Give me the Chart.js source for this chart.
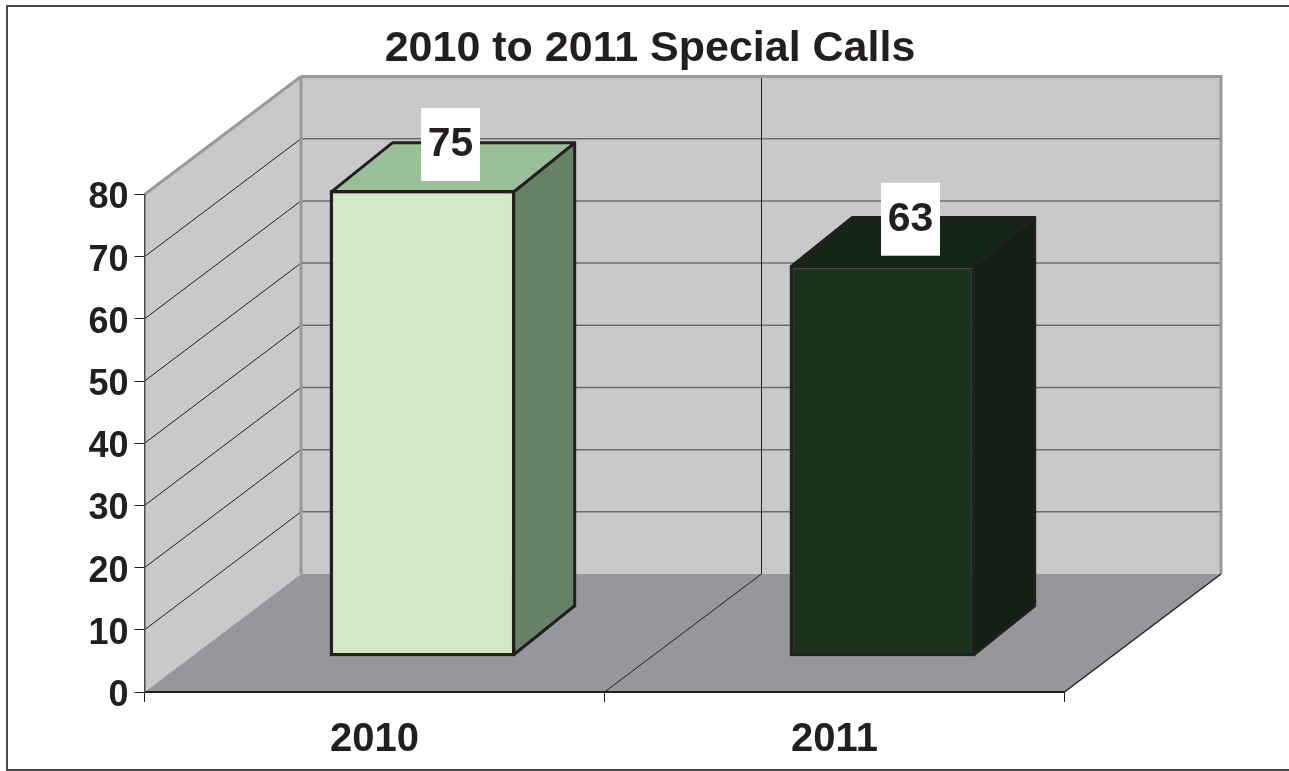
<!DOCTYPE html>
<html>
<head>
<meta charset="utf-8">
<title>2010 to 2011 Special Calls</title>
<script src="https://cdn.jsdelivr.net/npm/chart.js@4"></script>
<style>
    html, body { margin: 0; padding: 0; background: #fff; overflow: hidden; }
    canvas { display: block; }
</style>
</head>
<body>
<canvas id="canvas-chart" width="1289" height="771"></canvas>
<script>
const years = ['2010', '2011'];
const specialCalls = [75, 63];

const frontColors = ['#d4e7c7', '#19331c'];
const topColors = ['#9bbf99', '#142717'];
const sideColors = ['#668266', '#121f15'];

const INK = '#231f20';
const WALL = '#c8c9cb';
const FLOOR = '#96979a';
const EDGE = '#98999b';
const FONT = '"Liberation Sans", Arial, sans-serif';

// how far the back wall sits behind the axes
const WALL_DX = 156.5, WALL_DY = 118;
// how far the bars sit behind the axes, and how deep they are
const BAR_DX = 48, BAR_DY = 35.5;
const DEPTH_DX = 61, DEPTH_DY = 49;
const BAR_BORDER = 3.5;

function poly(ctx, pts, fill, stroke, width) {
    ctx.beginPath();
    pts.forEach((p, i) => i ? ctx.lineTo(p[0], p[1]) : ctx.moveTo(p[0], p[1]));
    ctx.closePath();
    if (fill) { ctx.fillStyle = fill; ctx.fill(); }
    if (stroke) { ctx.strokeStyle = stroke; ctx.lineWidth = width; ctx.lineJoin = 'round'; ctx.stroke(); }
}

function line(ctx, x1, y1, x2, y2, color, width) {
    ctx.beginPath();
    ctx.moveTo(x1, y1);
    ctx.lineTo(x2, y2);
    ctx.strokeStyle = color;
    ctx.lineWidth = width;
    ctx.stroke();
}

const box3d = {
    id: 'box3d',
    beforeDraw(chart) {
        const ctx = chart.ctx, x = chart.scales.x, y = chart.scales.y;
        const l = x.left, r = x.right, b = y.getPixelForValue(0), t = y.getPixelForValue(80);
        ctx.save();

        // outer frame, the right side runs off the picture
        ctx.strokeStyle = '#4a4a4c';
        ctx.lineWidth = 2;
        ctx.strokeRect(7, 6, 1300, 764);

        // walls and floor
        poly(ctx, [[l, b], [l + WALL_DX, b - WALL_DY], [l + WALL_DX, t - WALL_DY], [l, t]], WALL);
        poly(ctx, [[l + WALL_DX, b - WALL_DY], [r + WALL_DX, b - WALL_DY], [r + WALL_DX, t - WALL_DY], [l + WALL_DX, t - WALL_DY]], WALL);
        poly(ctx, [[l, b], [r, b], [r + WALL_DX, b - WALL_DY], [l + WALL_DX, b - WALL_DY]], FLOOR);

        // gridlines
        y.ticks.forEach(tick => {
            if (tick.value === 0 || tick.value === 80) return;
            const py = y.getPixelForValue(tick.value);
            line(ctx, l, py, l + WALL_DX, py - WALL_DY, INK, 1);
            line(ctx, l + WALL_DX, py - WALL_DY, r + WALL_DX, py - WALL_DY, '#6b6c6e', 1.5);
        });

        // divider between the two categories
        const mid = (l + r) / 2;
        line(ctx, mid, b, mid + WALL_DX + 0.5, b - WALL_DY, INK, 1);
        line(ctx, mid + WALL_DX + 0.5, b - WALL_DY, mid + WALL_DX + 0.5, t - WALL_DY, INK, 1);

        // wall edges
        line(ctx, l, t, l + WALL_DX, t - WALL_DY, EDGE, 3);
        line(ctx, l + WALL_DX, t - WALL_DY, r + WALL_DX + 1.5, t - WALL_DY, EDGE, 3);
        line(ctx, r + WALL_DX, t - WALL_DY, r + WALL_DX, b - WALL_DY, EDGE, 3);
        line(ctx, l + WALL_DX, t - WALL_DY, l + WALL_DX, b - WALL_DY, EDGE, 3);
        line(ctx, r, b, r + WALL_DX, b - WALL_DY, INK, 1.5);
        ctx.restore();
    },
    beforeDatasetsDraw(chart) {
        const ctx = chart.ctx;
        ctx.save();
        ctx.translate(BAR_DX, -BAR_DY);
        chart.getDatasetMeta(0).data.forEach((bar, i) => {
            // the library insets the bar border, so start on the middle of that stroke
            const inset = BAR_BORDER / 2;
            const left = bar.x - bar.width / 2 + inset, right = bar.x + bar.width / 2 - inset;
            const top = bar.y + inset, bottom = bar.base - inset;
            poly(ctx, [[right, top], [right + DEPTH_DX, top - DEPTH_DY], [right + DEPTH_DX, bottom - DEPTH_DY], [right, bottom]], sideColors[i], INK, 3);
            poly(ctx, [[left, top], [left + DEPTH_DX, top - DEPTH_DY], [right + DEPTH_DX, top - DEPTH_DY], [right, top]], topColors[i], INK, 3);
        });
    },
    afterDatasetsDraw(chart) {
        const ctx = chart.ctx;
        ctx.restore();
        ctx.save();
        chart.getDatasetMeta(0).data.forEach((bar, i) => {
            const cx = bar.x + BAR_DX + 28, boxTop = bar.y - BAR_DY - 82;
            ctx.fillStyle = '#fff';
            ctx.fillRect(cx - 29.5, boxTop, 59, 73);
            ctx.fillStyle = INK;
            ctx.font = 'bold 41px ' + FONT;
            ctx.textAlign = 'center';
            ctx.textBaseline = 'middle';
            ctx.fillText(String(specialCalls[i]), cx, boxTop + 37);
        });
        ctx.restore();
    }
};

new Chart(document.getElementById('canvas-chart').getContext('2d'), {
    type: 'bar',
    data: {
        labels: years,
        datasets: [{
            data: specialCalls,
            yAxisID: 'yBar',
            backgroundColor: frontColors,
            borderColor: INK,
            borderWidth: BAR_BORDER,
            borderSkipped: false,
            barPercentage: 0.404,
            categoryPercentage: 1
        }]
    },
    options: {
        responsive: false,
        animation: false,
        layout: { padding: { left: 11, right: 0, top: 0, bottom: 0 } },
        plugins: {
            legend: { display: false },
            tooltip: { enabled: false },
            title: {
                display: true,
                text: '2010 to 2011 Special Calls',
                color: INK,
                font: { family: FONT, size: 43, weight: 'bold' },
                padding: { top: 23, bottom: 119.9 }
            }
        },
        scales: {
            x: {
                afterFit(scale) { scale.height = 79; },
                grid: { drawOnChartArea: false, color: INK, tickLength: 10, tickWidth: 1 },
                border: { color: INK, width: 2 },
                ticks: { color: INK, padding: 14, font: { family: FONT, size: 40, weight: 'bold' } }
            },
            y: {
                min: 0,
                max: 80,
                afterFit(scale) { scale.width = 133.5; },
                grid: { drawOnChartArea: false, color: INK, tickLength: 10, tickWidth: 1 },
                border: { color: '#4a4a4c', width: 1.5 },
                ticks: { stepSize: 10, color: INK, padding: 6, labelOffset: 4, font: { family: FONT, size: 36, weight: 'bold' } }
            },
            // same range as y, the bars use it and it also keeps the empty room on the right
            yBar: {
                position: 'right',
                min: 0,
                max: 80,
                afterFit(scale) { scale.width = 224.5; },
                grid: { display: false },
                border: { display: false },
                ticks: { display: false }
            }
        }
    },
    plugins: [box3d]
});
</script>
</body>
</html>
